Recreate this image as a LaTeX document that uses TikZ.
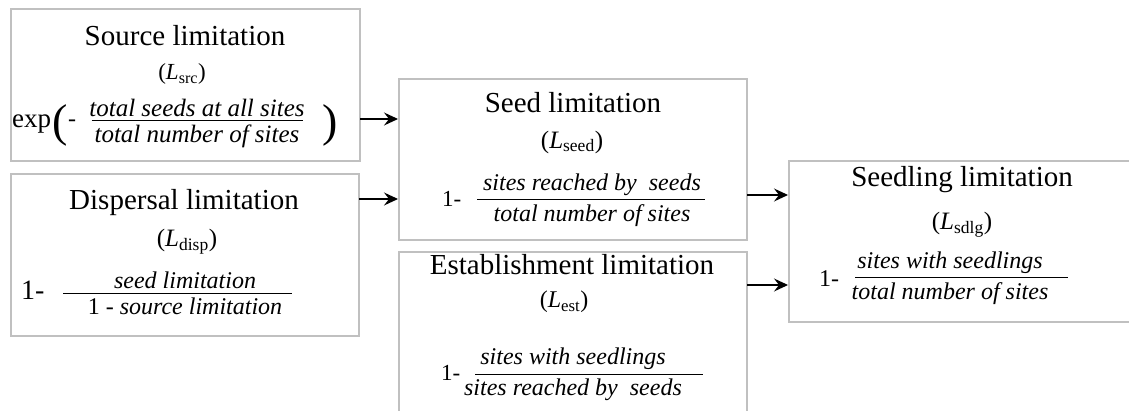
\documentclass[tikz,border=0pt]{standalone}
\usepackage{fontspec}
\setmainfont{Liberation Serif}
\usetikzlibrary{arrows.meta}
\definecolor{boxgray}{RGB}{192,192,192}
\newcommand{\fr}[4][0pt]{%
  \hbox to 0pt{\hss
    \vbox{\hbox to 0pt{\hss#3\hss}\nointerlineskip\kern3.5pt\nointerlineskip
          \hbox to 0pt{\hskip\dimexpr#1-#2/2\relax\vrule width #2 height .9pt depth 0pt\hss}}%
    \vtop{\kern4pt\nointerlineskip\hbox to 0pt{\hss#4\hss}}%
  \hss}}
\begin{document}
\begin{tikzpicture}[x=1pt,y=-1pt,
  box/.style={draw=boxgray, line width=2pt, anchor=north west, inner sep=0pt, outer sep=0pt},
  title/.style={anchor=base, inner sep=0pt, font=\fontsize{29}{32}\selectfont},
  sub/.style={anchor=center, inner sep=0pt},
  frac/.style={anchor=base, inner sep=0pt, font=\fontsize{24}{26}\selectfont\itshape},
  one/.style={anchor=base west, inner sep=0pt},
  arr/.style={-{Stealth[length=14pt,width=13pt,inset=5pt]}, line width=1.2pt, shorten >=1pt}]
\clip (0,0) rectangle (1129,411);
\useasboundingbox (0,0) rectangle (1129,411);
% boxes
\node[box, minimum width=349pt, minimum height=152pt] (src) at (11,9) {};
\node[box, minimum width=348pt, minimum height=162pt] (disp) at (11,174) {};
\node[box, minimum width=348pt, minimum height=161pt] (seed) at (399,79) {};
\node[box, minimum width=348pt, minimum height=200pt] (est) at (399,252) {};
\node[box, minimum width=360pt, minimum height=161pt] (sdlg) at (789,161) {};
% source
\node[title] (srct) at (185,46) {Source limitation};
\node[sub, font=\fontsize{23}{26}\selectfont] (srcs) at (182,74) {(\textit{L}\textsubscript{src})};
\node[one, font=\fontsize{27}{30}\selectfont] (srcexp) at (12,128) {exp};
\node[one, font=\fontsize{46}{48}\selectfont] (srclp) at (52,137) {(};
\node[one, font=\fontsize{24}{26}\selectfont] (srcm) at (68,127) {-};
\node[frac, font=\fontsize{25}{27}\selectfont\itshape] (srcf) at (197,121.4) {\fr{211pt}{total seeds at all sites}{total number of sites}};
\node[one, font=\fontsize{46}{48}\selectfont] (srcrp) at (322,137) {)};
% dispersal
\node[title] (dispt) at (184,210) {Dispersal limitation};
\node[sub, font=\fontsize{25}{28}\selectfont] (disps) at (187,242) {(\textit{L}\textsubscript{disp})};
\node[one, font=\fontsize{28}{30}\selectfont] (disp1) at (21,300) {1-};
\node[frac] (dispf) at (185,293.4) {\fr[-7.5pt]{229pt}{seed limitation}{\upshape 1 - \itshape source limitation}};
% seed
\node[title] (seedt) at (573,113) {Seed limitation};
\node[sub, font=\fontsize{25}{28}\selectfont] (seeds) at (572,142) {(\textit{L}\textsubscript{seed})};
\node[one, font=\fontsize{23}{26}\selectfont] (seed1) at (442,207) {1-};
\node[frac] (seedf) at (592,200.4) {\fr[-1pt]{228pt}{sites reached by\ \ seeds}{total number of sites}};
% establishment
\node[title] (estt) at (572,275) {Establishment limitation};
\node[sub, font=\fontsize{24}{26}\selectfont] (ests) at (564,302) {(\textit{L}\textsubscript{est})};
\node[one, font=\fontsize{23}{24}\selectfont] (est1) at (441,380) {1-};
\node[frac] (estf) at (573,374.4) {\fr[16pt]{228pt}{sites with seedlings}{sites reached by\ \ seeds}};
% seedling
\node[title] (sdlgt) at (962,187) {Seedling limitation};
\node[sub, font=\fontsize{25}{28}\selectfont] (sdlgs) at (962,225) {(\textit{L}\textsubscript{sdlg})};
\node[one, font=\fontsize{24}{26}\selectfont] (sdlg1) at (819,287) {1-};
\node[frac] (sdlgf) at (950,278.4) {\fr[11.5pt]{213pt}{sites with seedlings}{total number of sites}};
% arrows
\draw[arr] (src.east |- 0,119) -- (seed.west |- 0,119);
\draw[arr] (disp.east |- 0,199) -- (seed.west |- 0,199);
\draw[arr] (seed.east |- 0,195) -- (sdlg.west |- 0,195);
\draw[arr] (est.east |- 0,285) -- (sdlg.west |- 0,285);
\end{tikzpicture}
\end{document}
